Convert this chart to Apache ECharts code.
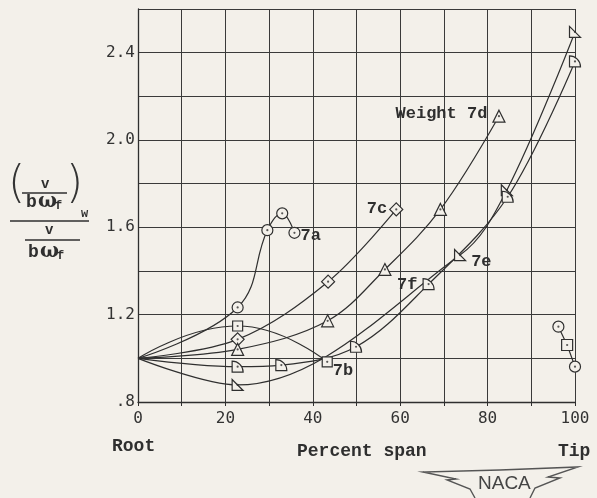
<!DOCTYPE html>
<html>
<head>
<meta charset="utf-8">
<script src="https://cdn.jsdelivr.net/npm/echarts@6/dist/echarts.min.js"></script>
<style>
html,body{margin:0;padding:0;background:#f3f0ea;}
#chart{width:597px;height:498px;}
</style>
</head>
<body>
<div id="chart"></div>
<script>
// ---- data (percent span, ratio) ----
var root = [0, 1.0];
var s7a = [[22.8, 1.233], [29.6, 1.587], [33.0, 1.664], [35.8, 1.575]];
var s7b = [[22.8, 1.148], [43.3, 0.984]];
var s7c = [[22.8, 1.087], [43.5, 1.351], [59.1, 1.682]];
var s7d = [[22.8, 1.041], [43.4, 1.172], [56.5, 1.407], [69.2, 1.682], [82.6, 2.109]];
var s7e = [[22.8, 0.878], [73.7, 1.473], [84.4, 1.770], [100, 2.495]];
var s7f = [[22.8, 0.962], [32.8, 0.969], [49.9, 1.053], [66.5, 1.340], [84.6, 1.740], [100, 2.360]];
var tipPts = [[96.2, 1.145], [98.2, 1.061], [100, 0.962]];
var tipSymbols = ['circle', 'rect', 'circle'];
var xTicks = [0, 20, 40, 60, 80, 100];
var yTicks = ['.8', '1.2', '1.6', '2.0', '2.4'];

var INK = '#2f2f2f';
var BG = '#f3f0ea';
var TYPE_FONT = '"Liberation Mono", "DejaVu Sans Mono", monospace';
var NUM_FONT = '"DejaVu Sans Mono", monospace';

var RTRI = 'path://M0,0 L0,10 L10,10 Z';
var QCIRC = 'path://M0,10 L0,0 A10,10 0 0 1 10,10 Z';

function lbl(text, pos, offset) {
  return {show: true, formatter: text, position: pos, offset: offset || [0, 0], distance: 3,
    color: INK, fontFamily: TYPE_FONT, fontWeight: 'bold', fontSize: 17};
}

function buildSeries(name, pts, symbol, size, labelIdx, labelCfg, smooth) {
  var data = [{value: root, symbol: 'none'}];
  pts.forEach(function (p, i) {
    var d = {value: p};
    if (i === labelIdx) d.label = labelCfg;
    data.push(d);
  });
  return {
    name: name, type: 'line', data: data, smooth: smooth, symbol: symbol, symbolSize: size,
    showAllSymbol: true, clip: false,
    lineStyle: {color: INK, width: 1.2},
    itemStyle: {color: BG, borderColor: INK, borderWidth: 1.2},
    z: 3
  };
}

var series = [
  buildSeries('7a', s7a, 'circle', 11, 3, lbl('7a', 'right', [-3, 3]), 0.4),
  buildSeries('7b', s7b, 'rect', 10, 1, lbl('7b', 'right', [-3, 9]), 0.5),
  buildSeries('7c', s7c, 'diamond', 13, 2, lbl('7c', 'left', [1, -1]), 0.35),
  buildSeries('7d', s7d, 'triangle', 12, 4, lbl('Weight 7d', 'left', [-2, -2]), 0.35),
  buildSeries('7e', s7e, RTRI, 11, 1, lbl('7e', 'right', [2, 7]), 0.35),
  buildSeries('7f', s7f, QCIRC, 11, 3, lbl('7f', 'left', [-2, 1]), 0.35),
  {
    name: 'tip', type: 'line', clip: false,
    data: tipPts.map(function (p, i) { return {value: p, symbol: tipSymbols[i]}; }),
    symbolSize: 11, showAllSymbol: true,
    lineStyle: {color: INK, width: 1.2},
    itemStyle: {color: BG, borderColor: INK, borderWidth: 1.2},
    z: 3
  }
];
// center dots in every marker
var allPts = [].concat(s7a, s7b, s7c, s7d, s7e, s7f, tipPts);
series.push({
  type: 'scatter', data: allPts, symbol: 'circle', symbolSize: 2.2, clip: false,
  itemStyle: {color: INK}, z: 5, silent: true
});

var chart = echarts.init(document.getElementById('chart'), null, {renderer: 'canvas'});
chart.setOption({
  backgroundColor: BG,
  animation: false,
  grid: {left: 138, top: 9, width: 437, height: 393, containLabel: false},
  xAxis: {
    type: 'value', min: 0, max: 100, interval: 10,
    axisLine: {show: true, lineStyle: {color: INK, width: 1.3}},
    axisTick: {show: true, length: 4, lineStyle: {color: INK}},
    splitLine: {show: true, lineStyle: {color: '#3a3a3a', width: 1}},
    axisLabel: {
      margin: 9, color: '#333', fontFamily: NUM_FONT, fontSize: 16,
      formatter: function (v) { return xTicks.indexOf(Math.round(v)) >= 0 ? String(Math.round(v)) : ''; }
    }
  },
  yAxis: {
    type: 'value', min: 0.8, max: 2.6, interval: 0.2,
    axisLine: {show: true, lineStyle: {color: INK, width: 1.3}},
    axisTick: {show: false},
    splitLine: {show: true, lineStyle: {color: '#3a3a3a', width: 1}},
    axisLabel: {
      margin: 3, color: '#333', fontFamily: NUM_FONT, fontSize: 16,
      formatter: function (v) {
        var s = v.toFixed(1);
        if (s === '0.8') s = '.8';
        return yTicks.indexOf(s) >= 0 ? s : '';
      }
    }
  },
  series: series,
  graphic: [
    // y-axis title: (v / bω_f)_w over v / bω_f
    {type: 'text', left: 8, top: 164, style: {text: '(', font: '300 44px "DejaVu Sans"', fill: '#333'}},
    {type: 'text', left: 66, top: 164, style: {text: ')', font: '300 44px "DejaVu Sans"', fill: '#333'}},
    {type: 'text', left: 41, top: 177, style: {text: 'v', font: 'bold 14px ' + TYPE_FONT, fill: INK}},
    {type: 'line', shape: {x1: 22, y1: 193, x2: 67, y2: 193}, style: {stroke: INK, lineWidth: 1.3}},
    {type: 'text', left: 26, top: 193, style: {text: 'b', font: 'bold 18px ' + TYPE_FONT, fill: INK}},
    {type: 'text', left: 38, top: 192, style: {text: 'ω', font: 'bold 20px "DejaVu Serif", serif', fill: INK}},
    {type: 'text', left: 55, top: 200, style: {text: 'f', font: 'bold 12px ' + TYPE_FONT, fill: INK}},
    {type: 'text', left: 81, top: 208, style: {text: 'w', font: 'bold 12px ' + TYPE_FONT, fill: INK}},
    {type: 'line', shape: {x1: 10, y1: 221, x2: 89, y2: 221}, style: {stroke: INK, lineWidth: 1.4}},
    {type: 'text', left: 45, top: 223, style: {text: 'v', font: 'bold 14px ' + TYPE_FONT, fill: INK}},
    {type: 'line', shape: {x1: 25, y1: 240, x2: 80, y2: 240}, style: {stroke: INK, lineWidth: 1.3}},
    {type: 'text', left: 28, top: 243, style: {text: 'b', font: 'bold 18px ' + TYPE_FONT, fill: INK}},
    {type: 'text', left: 40, top: 242, style: {text: 'ω', font: 'bold 20px "DejaVu Serif", serif', fill: INK}},
    {type: 'text', left: 57, top: 250, style: {text: 'f', font: 'bold 12px ' + TYPE_FONT, fill: INK}},
    // axis captions
    {type: 'text', left: 112, top: 437, style: {text: 'Root', font: 'bold 18px ' + TYPE_FONT, fill: INK}},
    {type: 'text', left: 297, top: 442, style: {text: 'Percent span', font: 'bold 18px ' + TYPE_FONT, fill: INK}},
    {type: 'text', left: 558, top: 442, style: {text: 'Tip', font: 'bold 18px ' + TYPE_FONT, fill: INK}},
    // NACA emblem
    {type: 'polyline', shape: {points: [[475, 498], [470, 489], [447, 480], [456, 479], [423, 472], [500, 470], [578, 467], [548, 477], [560, 478], [535, 488], [530, 498]]},
      style: {stroke: '#555', fill: null, lineWidth: 1.4}},
    {type: 'text', left: 478, top: 474, style: {text: 'NACA', font: '19px "Liberation Sans", sans-serif', fill: '#444'}}
  ]
});
</script>
</body>
</html>
